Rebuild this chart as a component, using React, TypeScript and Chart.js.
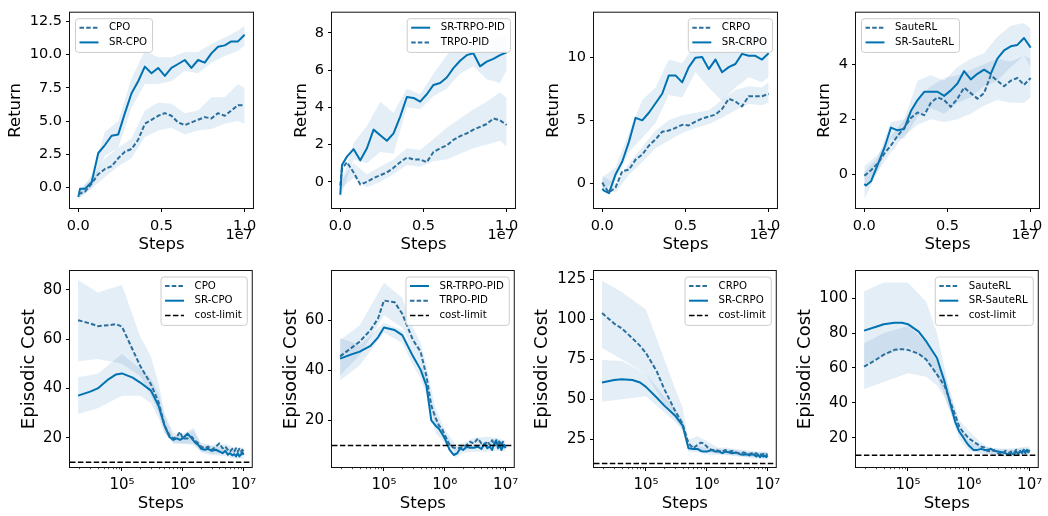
import React, { useEffect, useRef } from 'react';
import { Chart, registerables } from 'chart.js';
Chart.register(...registerables);

const FONT = '"DejaVu Sans", "Liberation Sans", sans-serif';
const SOLID = '#0072b2';
const DASHED = '#2b6f9d';
const BAND = 'rgba(45,125,185,0.13)';

// ---------- x grids ----------
const TOP_STEPS = [0, 1e5, 4e5, 8e5, 1.2e6, 1.6e6, 2e6, 2.4e6, 2.8e6, 3.2e6, 3.6e6, 4e6, 4.4e6, 4.8e6, 5.2e6, 5.6e6, 6e6, 6.4e6, 6.8e6, 7.2e6, 7.6e6, 8e6, 8.4e6, 8.8e6, 9.2e6, 9.6e6, 1e7];
const TOP_BAND_STEPS = [0, 8e5, 1.6e6, 2.4e6, 3.2e6, 4e6, 4.8e6, 5.6e6, 6.4e6, 7.2e6, 8e6, 8.8e6, 9.6e6, 1e7];
const BOT_STEPS = [1.9e4, 3e4, 4e4, 6e4, 8e4, 1e5, 1.5e5, 2e5, 3e5, 4e5, 5e5, 6e5, 7e5, 8e5, 9e5, 1e6, 1.2e6, 1.4e6, 1.6e6, 1.8e6, 2e6, 2.3e6, 2.6e6, 3e6, 3.5e6, 4e6, 4.5e6, 5e6, 5.5e6, 6e6, 6.5e6, 7e6, 7.5e6, 8e6, 8.5e6, 9e6, 9.5e6, 1e7];
const BOT_BAND_STEPS = [1.9e4, 4e4, 1e5, 2e5, 3e5, 4e5, 5e5, 7e5, 1e6, 1.5e6, 2e6, 3e6, 5e6, 7e6, 1e7];

// ---------- top row: Return ----------
const T1_CPO = [-0.5, -0.45, -0.3, 0.3, 1.0, 1.4, 1.6, 2.2, 2.7, 2.9, 3.6, 4.8, 5.1, 5.4, 5.6, 5.4, 4.9, 4.7, 4.9, 5.1, 5.3, 5.2, 5.6, 5.4, 5.8, 6.2, 6.2];
const T1_CPO_LO = [-0.8, -0.1, 0.8, 1.6, 2.2, 3.8, 4.3, 4.5, 4.0, 4.3, 4.4, 4.8, 5.0, 4.8];
const T1_CPO_HI = [-0.2, 0.6, 2.2, 3.0, 3.7, 5.8, 6.4, 6.3, 5.6, 5.8, 6.8, 6.8, 7.8, 7.5];
const T1_SR = [-0.7, -0.1, -0.1, 0.4, 2.6, 3.2, 3.9, 4.0, 5.6, 7.1, 8.0, 9.1, 8.6, 9.0, 8.4, 9.0, 9.3, 9.6, 9.0, 9.6, 9.4, 10.1, 10.6, 10.7, 11.0, 11.0, 11.5];
const T1_SR_LO = [-0.9, 0.0, 2.4, 3.0, 6.0, 7.8, 7.8, 8.0, 8.8, 8.6, 9.4, 9.9, 10.3, 10.7];
const T1_SR_HI = [-0.4, 0.9, 4.2, 5.0, 8.2, 10.3, 9.8, 9.8, 10.2, 10.2, 10.8, 11.3, 11.8, 12.2];

const T2_SR = [-0.7, 0.9, 1.35, 1.75, 1.15, 1.8, 2.8, 2.5, 2.2, 2.6, 3.5, 4.55, 4.5, 4.3, 4.7, 5.2, 5.3, 5.6, 6.1, 6.5, 6.8, 6.9, 6.2, 6.45, 6.6, 6.8, 6.95];
const T2_SR_LO = [-0.9, 1.2, 1.0, 1.6, 1.5, 4.0, 3.9, 4.6, 5.0, 5.8, 6.2, 5.5, 5.3, 6.0];
const T2_SR_HI = [-0.3, 2.1, 3.0, 4.3, 3.7, 5.0, 4.7, 5.8, 6.8, 7.6, 7.6, 7.5, 7.8, 7.9];
const T2_PID = [-0.2, 0.7, 1.05, 0.5, -0.15, 0.0, 0.2, 0.35, 0.5, 0.75, 1.05, 1.3, 1.2, 1.2, 1.05, 1.6, 1.8, 1.95, 2.25, 2.45, 2.6, 2.8, 2.95, 3.1, 3.4, 3.3, 3.05];
const T2_PID_LO = [-0.4, 0.2, -0.3, 0.0, 0.4, 0.9, 0.8, 1.1, 1.2, 1.5, 1.8, 2.0, 2.2, 1.9];
const T2_PID_HI = [0.0, 1.0, 0.4, 0.8, 1.2, 1.8, 1.7, 2.3, 2.9, 3.4, 3.9, 4.3, 4.8, 4.5];

const T3_CRPO = [0.1, -0.15, -0.7, -0.3, 1.0, 1.1, 1.9, 2.3, 3.0, 3.5, 4.1, 4.2, 4.4, 4.65, 4.6, 4.9, 5.15, 5.3, 5.45, 5.9, 6.7, 6.5, 6.1, 6.9, 6.9, 6.9, 7.1];
const T3_CRPO_LO = [-0.3, -0.7, 0.7, 1.7, 2.8, 3.4, 4.0, 4.4, 4.7, 5.2, 5.8, 6.3, 6.2, 6.4];
const T3_CRPO_HI = [0.6, 0.0, 1.6, 2.9, 4.2, 5.0, 5.4, 5.6, 5.8, 6.6, 7.4, 7.7, 7.6, 8.0];
const T3_SR = [-0.4, -0.55, -0.75, 0.75, 1.75, 3.3, 5.2, 5.0, 5.6, 6.35, 7.1, 8.55, 8.55, 8.0, 9.2, 9.95, 10.0, 9.05, 9.8, 8.8, 9.2, 9.45, 10.25, 10.1, 10.1, 9.8, 10.3];
const T3_SR_LO = [-0.6, 0.3, 2.5, 3.6, 4.8, 7.0, 6.8, 8.8, 7.6, 6.5, 7.6, 8.4, 8.0, 8.4];
const T3_SR_HI = [0.5, 1.3, 4.0, 6.6, 7.6, 9.8, 9.5, 11.0, 11.0, 10.6, 11.2, 11.8, 11.6, 12.3];

const T4_SAUTE = [-0.05, 0.0, 0.15, 0.4, 0.75, 1.05, 1.4, 1.7, 2.05, 2.25, 2.15, 2.6, 2.8, 2.7, 2.45, 2.75, 3.15, 2.95, 2.75, 2.95, 3.6, 3.4, 3.2, 3.4, 3.5, 3.25, 3.5];
const T4_SAUTE_LO = [-0.4, 0.1, 0.8, 1.4, 1.8, 2.0, 1.9, 2.0, 2.2, 2.5, 2.7, 2.6, 2.6, 2.8];
const T4_SAUTE_HI = [0.3, 0.7, 1.4, 2.0, 2.7, 3.2, 3.5, 3.6, 3.8, 4.0, 4.2, 4.1, 4.3, 4.2];
const T4_SR = [-0.35, -0.4, -0.25, 0.35, 0.95, 1.7, 1.6, 1.65, 2.3, 2.7, 3.0, 3.0, 3.0, 2.85, 3.05, 3.3, 3.75, 3.45, 3.65, 3.8, 3.65, 4.2, 4.5, 4.65, 4.7, 4.95, 4.6];
const T4_SR_LO = [-0.9, 0.1, 1.3, 1.3, 2.1, 2.4, 2.2, 2.6, 2.8, 3.2, 3.4, 3.9, 4.3, 3.9];
const T4_SR_HI = [0.1, 0.6, 1.9, 2.0, 3.4, 3.6, 3.4, 3.9, 4.2, 4.4, 5.0, 5.4, 5.5, 5.3];

// ---------- bottom row: Episodic Cost ----------
const B1_CPO = [67.7, 66.4, 65.3, 65.7, 66.1, 65.1, 55.7, 49.1, 41.7, 34.4, 25.1, 21.1, 19.7, 20.4, 22.4, 19.7, 19.7, 20.4, 18.7, 17.7, 16.4, 15.7, 16.4, 15.1, 16.4, 17.7, 15.7, 16.4, 15.1, 14.4, 15.5, 14.4, 15.7, 14.4, 15.5, 14.4, 15.1, 14.4];
const B1_CPO_LO = [51, 52, 50, 45, 37, 30, 22, 18, 17.5, 17, 14.5, 13.5, 13.5, 13, 12.5];
const B1_CPO_HI = [84, 79, 82, 61, 53, 42, 30, 22, 21.5, 24, 18, 17, 17.5, 16, 16];
const B1_SR = [37.1, 38.7, 40.0, 43.7, 45.7, 46.1, 44.4, 42.4, 39.1, 33.0, 25.0, 20.4, 19.1, 19.7, 19.1, 19.7, 21.7, 19.7, 18.0, 17.1, 15.5, 15.1, 15.5, 14.7, 15.1, 14.4, 13.7, 14.7, 13.1, 13.7, 12.8, 13.3, 12.4, 13.7, 12.4, 13.1, 14.1, 13.1];
const B1_SR_LO = [29.6, 32, 37, 37, 34, 28, 22, 17.5, 17.5, 17.5, 14, 13, 12.5, 11.5, 11.5];
const B1_SR_HI = [44.5, 46, 54, 48, 44, 38, 29, 20.5, 21, 23, 17, 16.5, 16, 15, 15];

const B2_SR = [44.7, 46.5, 47.5, 49.8, 53.2, 57.1, 56.1, 54.1, 45.6, 40.3, 33.8, 20.0, 18.0, 16.7, 14.8, 12.8, 8.2, 6.2, 6.9, 8.9, 8.2, 9.5, 9.1, 9.1, 9.5, 8.6, 10.8, 8.9, 9.5, 8.2, 10.8, 12.1, 8.9, 10.2, 8.2, 9.5, 10.2, 8.9];
const B2_SR_LO = [36, 42, 55, 51, 42, 37, 30, 15, 11, 5, 7, 7.5, 7.5, 8, 7.5];
const B2_SR_HI = [53, 50, 59, 56, 48, 43, 37, 21, 15, 8.5, 9.5, 10.5, 11, 13, 10.5];
const B2_PID = [45.6, 49.2, 51.5, 56.1, 60.7, 67.9, 67.2, 62.6, 52.1, 47.5, 37.7, 25.9, 21.3, 18.0, 16.7, 14.1, 10.2, 9.1, 8.9, 9.1, 9.5, 10.2, 11.5, 10.8, 12.8, 10.8, 10.2, 11.7, 10.2, 12.1, 10.2, 11.2, 10.2, 12.1, 9.5, 11.5, 9.5, 10.2];
const B2_PID_LO = [38, 46, 62, 57, 48, 43, 33, 18, 12, 7.5, 8, 9, 9.5, 9.5, 8.5];
const B2_PID_HI = [52, 58, 75, 69, 57, 51, 42, 25, 16.5, 10.5, 11, 13, 13.5, 13, 12];

const B3_CRPO = [103.9, 97.3, 94.3, 88.1, 83.4, 78.9, 67.6, 56.4, 43.0, 34.8, 22.5, 19.5, 21.5, 23.0, 22.5, 20.5, 18.4, 18.4, 17.8, 17.4, 18.4, 17.4, 17.8, 16.8, 16.4, 16.8, 16.4, 15.8, 16.4, 15.8, 16.4, 15.4, 16.0, 15.4, 16.0, 15.4, 15.8, 15.4];
const B3_CRPO_LO = [82, 75, 66, 47, 38, 31, 19, 18, 17, 16, 15.5, 15, 14, 13.5, 13.5];
const B3_CRPO_HI = [124, 117, 106, 75, 57, 45, 25, 27, 24, 20, 20, 19, 18, 17.5, 17.5];
const B3_SR = [60.5, 62.1, 62.5, 62.1, 60.5, 57.8, 51.2, 46.1, 40.0, 33.8, 19.5, 19.1, 19.1, 17.8, 17.4, 17.4, 18.4, 17.4, 17.4, 16.4, 17.4, 17.0, 16.4, 16.8, 15.8, 15.4, 15.8, 15.0, 15.8, 15.4, 14.3, 15.4, 13.9, 15.4, 14.3, 15.0, 13.9, 15.0];
const B3_SR_LO = [48.5, 50, 52, 42, 36, 31, 17, 17, 15.5, 15.5, 15.5, 14.5, 13.5, 13, 12.5];
const B3_SR_HI = [74.5, 74, 66, 52, 44, 37, 22, 21, 19.5, 19.5, 19, 18.5, 17, 17, 17];

const B4_SAUTE = [60.7, 64.8, 67.6, 70.4, 70.8, 70.4, 68.2, 64.8, 56.3, 49.7, 40.3, 32.8, 26.2, 23.4, 21.5, 19.6, 17.7, 16.2, 14.9, 14.4, 12.5, 12.1, 13.0, 11.2, 10.2, 12.5, 11.2, 12.1, 11.2, 13.0, 11.2, 12.1, 11.7, 13.0, 12.1, 12.5, 11.7, 12.1];
const B4_SAUTE_LO = [48, 52, 57, 55, 50, 43, 35, 22, 15, 13, 11, 10, 10, 10.5, 10.5];
const B4_SAUTE_HI = [74, 80, 84, 75, 64, 56, 46, 30, 24, 18, 15, 13.5, 14, 14, 14];
const B4_SR = [81.4, 83.6, 85.1, 85.9, 85.9, 85.1, 80.8, 75.2, 65.7, 52.0, 39.0, 29.0, 23.4, 20.6, 17.7, 15.5, 13.0, 13.0, 13.6, 13.0, 13.0, 13.6, 12.5, 12.1, 11.7, 11.2, 10.2, 11.2, 10.2, 12.1, 10.6, 12.5, 11.2, 13.0, 11.2, 13.0, 12.1, 13.0];
const B4_SR_LO = [62, 67, 72, 64, 55, 44, 34, 19, 12.5, 11, 10.5, 9.5, 9, 10, 10.5];
const B4_SR_HI = [104, 109, 109, 98, 80, 60, 44, 27, 18, 15, 14.5, 14, 13, 14.5, 15];

// ---------- axes ----------
const TOP_X_MIN = -5e5;
const TOP_X_MAX = 1.05e7;
const TOP_X_TICKS = [0, 5e6, 1e7];
const LOG_X_MIN = 1.4e4;
const LOG_X_MAX = 1.36e7;
const LOG_X_TICKS = [1e5, 1e6, 1e7];
const LOG_X_LABELS = ['10\u2075', '10\u2076', '10\u2077'];
const COST_LIMIT = 10;

const PANELS: any[] = [
  { row: 0, col: 0, yMin: -1.54, yMax: 13.16, yTicks: [0, 2.5, 5, 7.5, 10, 12.5], dec: 1, titlePad: 6, legend: 'left',
    series: [
      { label: 'CPO', dashed: true, y: T1_CPO, lo: T1_CPO_LO, hi: T1_CPO_HI },
      { label: 'SR-CPO', dashed: false, y: T1_SR, lo: T1_SR_LO, hi: T1_SR_HI }] },
  { row: 0, col: 1, yMin: -1.41, yMax: 9.08, yTicks: [0, 2, 4, 6, 8], dec: 0, titlePad: 29.5, legend: 'right',
    series: [
      { label: 'SR-TRPO-PID', dashed: false, y: T2_SR, lo: T2_SR_LO, hi: T2_SR_HI },
      { label: 'TRPO-PID', dashed: true, y: T2_PID, lo: T2_PID_LO, hi: T2_PID_HI }] },
  { row: 0, col: 2, yMin: -1.92, yMax: 13.5, yTicks: [0, 5, 10], dec: 0, titlePad: 19.4, legend: 'right',
    series: [
      { label: 'CRPO', dashed: true, y: T3_CRPO, lo: T3_CRPO_LO, hi: T3_CRPO_HI },
      { label: 'SR-CRPO', dashed: false, y: T3_SR, lo: T3_SR_LO, hi: T3_SR_HI }] },
  { row: 0, col: 3, yMin: -1.22, yMax: 5.87, yTicks: [0, 2, 4], dec: 0, titlePad: 28.8, legend: 'left',
    series: [
      { label: 'SauteRL', dashed: true, y: T4_SAUTE, lo: T4_SAUTE_LO, hi: T4_SAUTE_HI },
      { label: 'SR-SauteRL', dashed: false, y: T4_SR, lo: T4_SR_LO, hi: T4_SR_HI }] },
  { row: 1, col: 0, yMin: 8.1, yMax: 87.7, yTicks: [20, 40, 60, 80], dec: 0, titlePad: 18.5, legend: 'right',
    series: [
      { label: 'CPO', dashed: true, y: B1_CPO, lo: B1_CPO_LO, hi: B1_CPO_HI },
      { label: 'SR-CPO', dashed: false, y: B1_SR, lo: B1_SR_LO, hi: B1_SR_HI }] },
  { row: 1, col: 1, yMin: 1.4, yMax: 79.7, yTicks: [20, 40, 60], dec: 0, titlePad: 18.5, legend: 'right',
    series: [
      { label: 'SR-TRPO-PID', dashed: false, y: B2_SR, lo: B2_SR_LO, hi: B2_SR_HI },
      { label: 'TRPO-PID', dashed: true, y: B2_PID, lo: B2_PID_LO, hi: B2_PID_HI }] },
  { row: 1, col: 2, yMin: 7.8, yMax: 130.1, yTicks: [25, 50, 75, 100, 125], dec: 0, titlePad: 7.5, legend: 'right',
    series: [
      { label: 'CRPO', dashed: true, y: B3_CRPO, lo: B3_CRPO_LO, hi: B3_CRPO_HI },
      { label: 'SR-CRPO', dashed: false, y: B3_SR, lo: B3_SR_LO, hi: B3_SR_HI }] },
  { row: 1, col: 3, yMin: 3.2, yMax: 115.6, yTicks: [20, 40, 60, 80, 100], dec: 0, titlePad: 8.2, legend: 'right',
    series: [
      { label: 'SauteRL', dashed: true, y: B4_SAUTE, lo: B4_SAUTE_LO, hi: B4_SAUTE_HI },
      { label: 'SR-SauteRL', dashed: false, y: B4_SR, lo: B4_SR_LO, hi: B4_SR_HI }] },
];

function roundRect(ctx: CanvasRenderingContext2D, x: number, y: number, w: number, h: number, r: number) {
  ctx.beginPath();
  ctx.moveTo(x + r, y);
  ctx.lineTo(x + w - r, y);
  ctx.arcTo(x + w, y, x + w, y + r, r);
  ctx.lineTo(x + w, y + h - r);
  ctx.arcTo(x + w, y + h, x + w - r, y + h, r);
  ctx.lineTo(x + r, y + h);
  ctx.arcTo(x, y + h, x, y + h - r, r);
  ctx.lineTo(x, y + r);
  ctx.arcTo(x, y, x + r, y, r);
  ctx.closePath();
}

const mplPlugin = {
  id: 'mpl',
  afterDraw(chart: any, _args: any, opts: any) {
    const ctx: CanvasRenderingContext2D = chart.ctx;
    const a = chart.chartArea;
    ctx.save();
    // minor log ticks
    if (opts.log) {
      const xs = chart.scales.x;
      ctx.strokeStyle = '#000';
      ctx.lineWidth = 0.7;
      for (let d = 4; d <= 6; d++) {
        for (let k = 2; k <= 9; k++) {
          const v = k * Math.pow(10, d);
          if (v < LOG_X_MIN || v > LOG_X_MAX) continue;
          const px = Math.round(xs.getPixelForValue(v)) + 0.5;
          ctx.beginPath();
          ctx.moveTo(px, a.bottom);
          ctx.lineTo(px, a.bottom + 2.2);
          ctx.stroke();
        }
      }
    }
    // axes box
    ctx.strokeStyle = '#111';
    ctx.lineWidth = 1;
    ctx.strokeRect(a.left - 0.5, a.top - 0.5, a.right - a.left + 1, a.bottom - a.top + 1);
    // offset text
    if (!opts.log) {
      ctx.fillStyle = '#000';
      ctx.font = `14.5px ${FONT}`;
      ctx.textAlign = 'right';
      ctx.textBaseline = 'alphabetic';
      ctx.fillText('1e7', a.right, a.bottom + 30.5);
    }
    // legend
    const items = chart.data.datasets.filter((d: any) => d.inLegend);
    ctx.font = `10.2px ${FONT}`;
    const tw = Math.max(...items.map((d: any) => ctx.measureText(d.label).width));
    const padL = 4.5, handle = 19, gap = 10.5, padR = 5;
    const pitch = 14.7;
    const w = padL + handle + gap + tw + padR;
    const h = 19 + (items.length - 1) * pitch;
    const x0 = opts.legend === 'left' ? a.left + 5 : a.right - 5 - w;
    const y0 = a.top + 5.5;
    roundRect(ctx, x0 + 0.5, y0 + 0.5, w, h, 3);
    ctx.fillStyle = 'rgba(255,255,255,0.8)';
    ctx.fill();
    ctx.strokeStyle = '#cccccc';
    ctx.lineWidth = 1;
    ctx.stroke();
    items.forEach((d: any, i: number) => {
      const cy = y0 + 9.5 + i * pitch;
      ctx.strokeStyle = d.borderColor;
      ctx.lineWidth = d.borderWidth;
      ctx.lineCap = 'butt';
      ctx.setLineDash(d.borderDash || []);
      ctx.beginPath();
      ctx.moveTo(x0 + padL, cy);
      ctx.lineTo(x0 + padL + handle, cy);
      ctx.stroke();
      ctx.setLineDash([]);
      ctx.fillStyle = '#000';
      ctx.textAlign = 'left';
      ctx.textBaseline = 'middle';
      ctx.fillText(d.label, x0 + padL + handle + gap, cy);
    });
    ctx.restore();
  },
};

function buildConfig(p: any) {
  const top = p.row === 0;
  const xs = top ? TOP_STEPS : BOT_STEPS;
  const bxs = top ? TOP_BAND_STEPS : BOT_BAND_STEPS;
  const datasets: any[] = [];
  p.series.forEach((s: any) => {
    datasets.push({ data: bxs.map((x: number, i: number) => ({ x, y: s.lo[i] })), borderColor: 'transparent', backgroundColor: 'transparent', borderWidth: 0, pointRadius: 0, fill: false, order: 2 });
    datasets.push({ data: bxs.map((x: number, i: number) => ({ x, y: s.hi[i] })), borderColor: 'transparent', backgroundColor: BAND, borderWidth: 0, pointRadius: 0, fill: '-1', order: 2 });
  });
  p.series.forEach((s: any) => {
    datasets.push({
      label: s.label, inLegend: true,
      data: xs.map((x: number, i: number) => ({ x, y: s.y[i] })),
      borderColor: s.dashed ? DASHED : SOLID,
      borderDash: s.dashed ? [4.5, 2.2] : [],
      borderWidth: 2, pointRadius: 0, fill: false, order: 1,
      borderCapStyle: 'butt', borderJoinStyle: 'round',
    });
  });
  if (!top) {
    datasets.push({
      label: 'cost-limit', inLegend: true,
      data: [{ x: LOG_X_MIN, y: COST_LIMIT }, { x: LOG_X_MAX, y: COST_LIMIT }],
      borderColor: '#000', borderDash: [5.5, 2.4], borderWidth: 1.5, pointRadius: 0, fill: false, order: 0,
    });
  }
  const tickFont = { family: FONT, size: top ? 14.5 : 15, lineHeight: 1.2 };
  const grid = { display: true, drawOnChartArea: false, drawTicks: true, tickLength: 4, tickColor: '#000', tickWidth: 1 };
  return {
    type: 'line',
    data: { datasets },
    plugins: [mplPlugin],
    options: {
      animation: false,
      responsive: false,
      devicePixelRatio: 1,
      events: [],
      layout: { padding: { left: 0, right: 7, top: top ? 7 : 10, bottom: 0 } },
      plugins: {
        legend: { display: false },
        tooltip: { enabled: false },
        filler: { drawTime: 'beforeDatasetsDraw' },
        mpl: { log: !top, legend: p.legend },
      },
      scales: {
        x: {
          type: top ? 'linear' : 'logarithmic',
          min: top ? TOP_X_MIN : LOG_X_MIN,
          max: top ? TOP_X_MAX : LOG_X_MAX,
          bounds: 'data',
          afterBuildTicks: (s: any) => { s.ticks = (top ? TOP_X_TICKS : LOG_X_TICKS).map((v) => ({ value: v })); },
          afterFit: (s: any) => { s.height = top ? 50 : 49; },
          ticks: {
            autoSkip: false, maxRotation: 0, minRotation: 0, padding: 5.5, color: '#000', font: tickFont,
            callback: (v: number) => top ? (v / 1e7).toFixed(1) : (LOG_X_TICKS.indexOf(v) >= 0 ? LOG_X_LABELS[LOG_X_TICKS.indexOf(v)] : ''),
          },
          grid, border: { display: false },
          title: { display: true, text: 'Steps', color: '#000', font: { family: FONT, size: 16.5, lineHeight: 1.2 }, padding: { top: 0, bottom: top ? 3 : 2 } },
        },
        y: {
          type: 'linear', min: p.yMin, max: p.yMax, bounds: 'data',
          afterBuildTicks: (s: any) => { s.ticks = p.yTicks.map((v: number) => ({ value: v })); },
          afterFit: (s: any) => { s.width = 70; },
          ticks: { autoSkip: false, padding: 4, color: '#000', font: tickFont, callback: (v: number) => v.toFixed(p.dec) },
          grid, border: { display: false },
          title: { display: true, text: top ? 'Return' : 'Episodic Cost', color: '#000', font: { family: FONT, size: top ? 16.5 : 18, lineHeight: 1.2 }, padding: { top: p.titlePad, bottom: 0 } },
        },
      },
    },
  };
}

function Panel({ p }: { p: any }) {
  const ref = useRef<HTMLCanvasElement>(null);
  useEffect(() => {
    const chart = new Chart(ref.current as HTMLCanvasElement, buildConfig(p) as any);
    return () => chart.destroy();
  }, []);
  return (
    <canvas ref={ref} width={262} height={258}
      style={{ position: 'absolute', left: p.col * 262, top: p.row * 258, width: 262, height: 258 }} />
  );
}

export default function App() {
  return (
    <div style={{ position: 'absolute', left: 0, top: 0, width: 1048, height: 516, background: '#fff' }}>
      {PANELS.map((p, i) => <Panel key={i} p={p} />)}
    </div>
  );
}
